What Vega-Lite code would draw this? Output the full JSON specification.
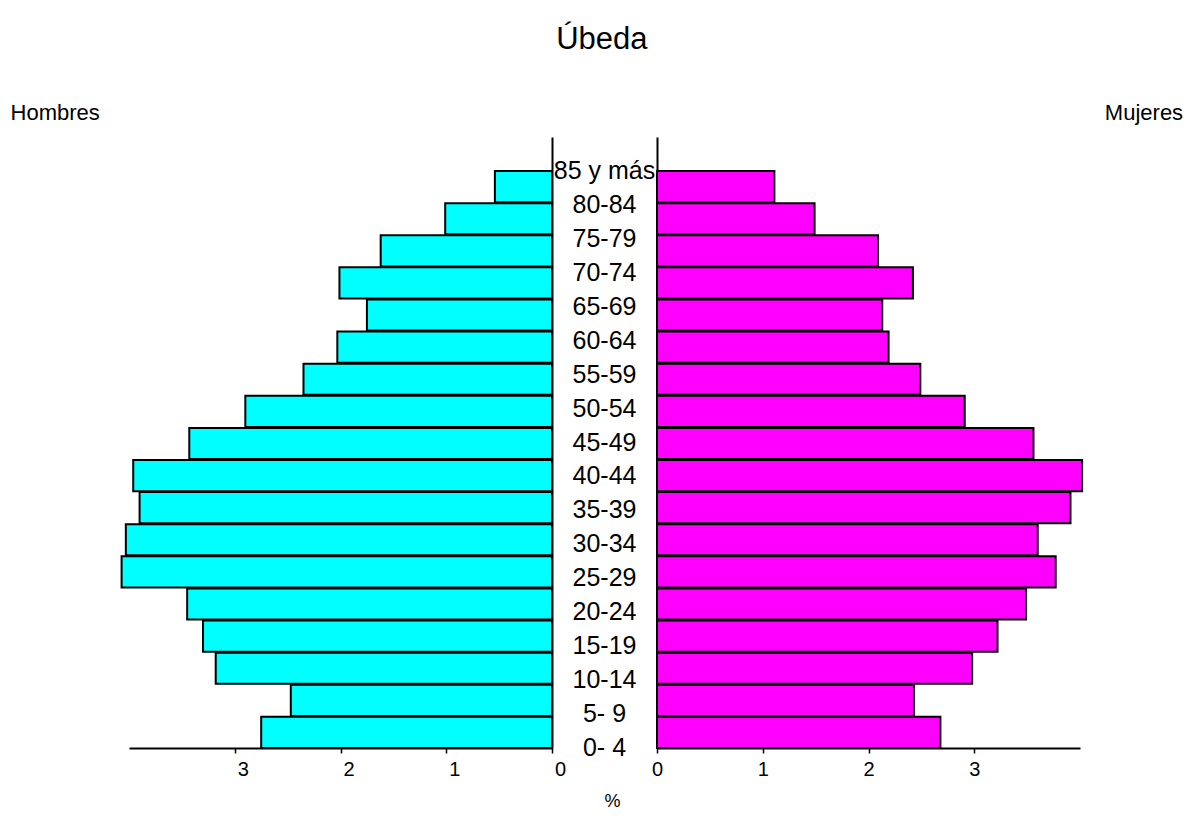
{
  "$schema": "https://vega.github.io/schema/vega-lite/v6.json",
  "padding": {"left": 10, "top": 24, "right": 5, "bottom": 5},
  "background": "white",
  "title": {"text": "Úbeda", "fontSize": 31, "font": "Liberation Sans", "fontWeight": "normal", "anchor": "middle", "frame": "bounds", "offset": 46, "dx": 5, "color": "black"},
  "data": {"values": [
    {"age": "85 y más", "hombres": 0.54, "mujeres": 1.11},
    {"age": "80-84", "hombres": 1.01, "mujeres": 1.49},
    {"age": "75-79", "hombres": 1.62, "mujeres": 2.09},
    {"age": "70-74", "hombres": 2.01, "mujeres": 2.42},
    {"age": "65-69", "hombres": 1.75, "mujeres": 2.13},
    {"age": "60-64", "hombres": 2.03, "mujeres": 2.19},
    {"age": "55-59", "hombres": 2.35, "mujeres": 2.49},
    {"age": "50-54", "hombres": 2.90, "mujeres": 2.91},
    {"age": "45-49", "hombres": 3.43, "mujeres": 3.56},
    {"age": "40-44", "hombres": 3.96, "mujeres": 4.02},
    {"age": "35-39", "hombres": 3.90, "mujeres": 3.91},
    {"age": "30-34", "hombres": 4.03, "mujeres": 3.60},
    {"age": "25-29", "hombres": 4.07, "mujeres": 3.77},
    {"age": "20-24", "hombres": 3.45, "mujeres": 3.49},
    {"age": "15-19", "hombres": 3.30, "mujeres": 3.22},
    {"age": "10-14", "hombres": 3.18, "mujeres": 2.98},
    {"age": "5- 9", "hombres": 2.47, "mujeres": 2.43},
    {"age": "0- 4", "hombres": 2.75, "mujeres": 2.68}
  ]},
  "spacing": 0,
  "bounds": "flush",
  "hconcat": [
    {
      "width": 423,
      "height": 611,
      "title": {"text": "Hombres", "anchor": "start", "dx": -110, "offset": 12, "fontSize": 22, "font": "Liberation Sans", "fontWeight": "normal", "color": "black"},
      "mark": {"type": "bar", "color": "#00FFFF", "stroke": "black", "strokeWidth": 2, "clip": false},
      "encoding": {
        "y": {"field": "age", "type": "nominal", "sort": null,
              "scale": {"paddingInner": 0.03, "paddingOuter": 0.53, "align": 1},
              "axis": {"orient": "right", "labels": false, "ticks": false, "title": null, "domain": true, "domainColor": "black", "domainWidth": 2}},
        "x": {"field": "hombres", "type": "quantitative",
              "scale": {"domain": [0, 4], "reverse": true, "nice": false},
              "axis": {"values": [0, 1, 2, 3], "title": null, "grid": false, "domainColor": "black", "domainWidth": 2, "tickColor": "black", "tickSize": 5, "tickWidth": 1.5, "labelOffset": 8, "labelPadding": 6, "labelFontSize": 20, "labelFont": "Liberation Sans", "labelColor": "black"}}
      }
    },
    {
      "width": 105,
      "height": 611,
      "title": {"text": "%", "orient": "bottom", "offset": 32, "fontSize": 18, "font": "Liberation Sans", "fontWeight": "normal", "color": "black", "anchor": "middle", "dx": 8},
      "mark": {"type": "text", "fontSize": 25, "font": "Liberation Sans", "color": "black", "align": "center", "baseline": "middle"},
      "encoding": {
        "y": {"field": "age", "type": "nominal", "sort": null,
              "scale": {"paddingInner": 0.03, "paddingOuter": 0.53, "align": 1},
              "axis": null},
        "text": {"field": "age"}
      }
    },
    {
      "width": 423,
      "height": 611,
      "title": {"text": "Mujeres", "anchor": "end", "dx": 100, "offset": 12, "fontSize": 22, "font": "Liberation Sans", "fontWeight": "normal", "color": "black"},
      "mark": {"type": "bar", "color": "#FF00FF", "stroke": "black", "strokeWidth": 2, "clip": false},
      "encoding": {
        "y": {"field": "age", "type": "nominal", "sort": null,
              "scale": {"paddingInner": 0.03, "paddingOuter": 0.53, "align": 1},
              "axis": {"orient": "left", "labels": false, "ticks": false, "title": null, "domain": true, "domainColor": "black", "domainWidth": 2}},
        "x": {"field": "mujeres", "type": "quantitative",
              "scale": {"domain": [0, 4], "nice": false},
              "axis": {"values": [0, 1, 2, 3], "title": null, "grid": false, "domainColor": "black", "domainWidth": 2, "tickColor": "black", "tickSize": 5, "tickWidth": 1.5, "labelPadding": 6, "labelFontSize": 20, "labelFont": "Liberation Sans", "labelColor": "black"}}
      }
    }
  ],
  "config": {
    "view": {"stroke": null},
    "axis": {"labelFlush": false, "labelOverlap": false}
  }
}
